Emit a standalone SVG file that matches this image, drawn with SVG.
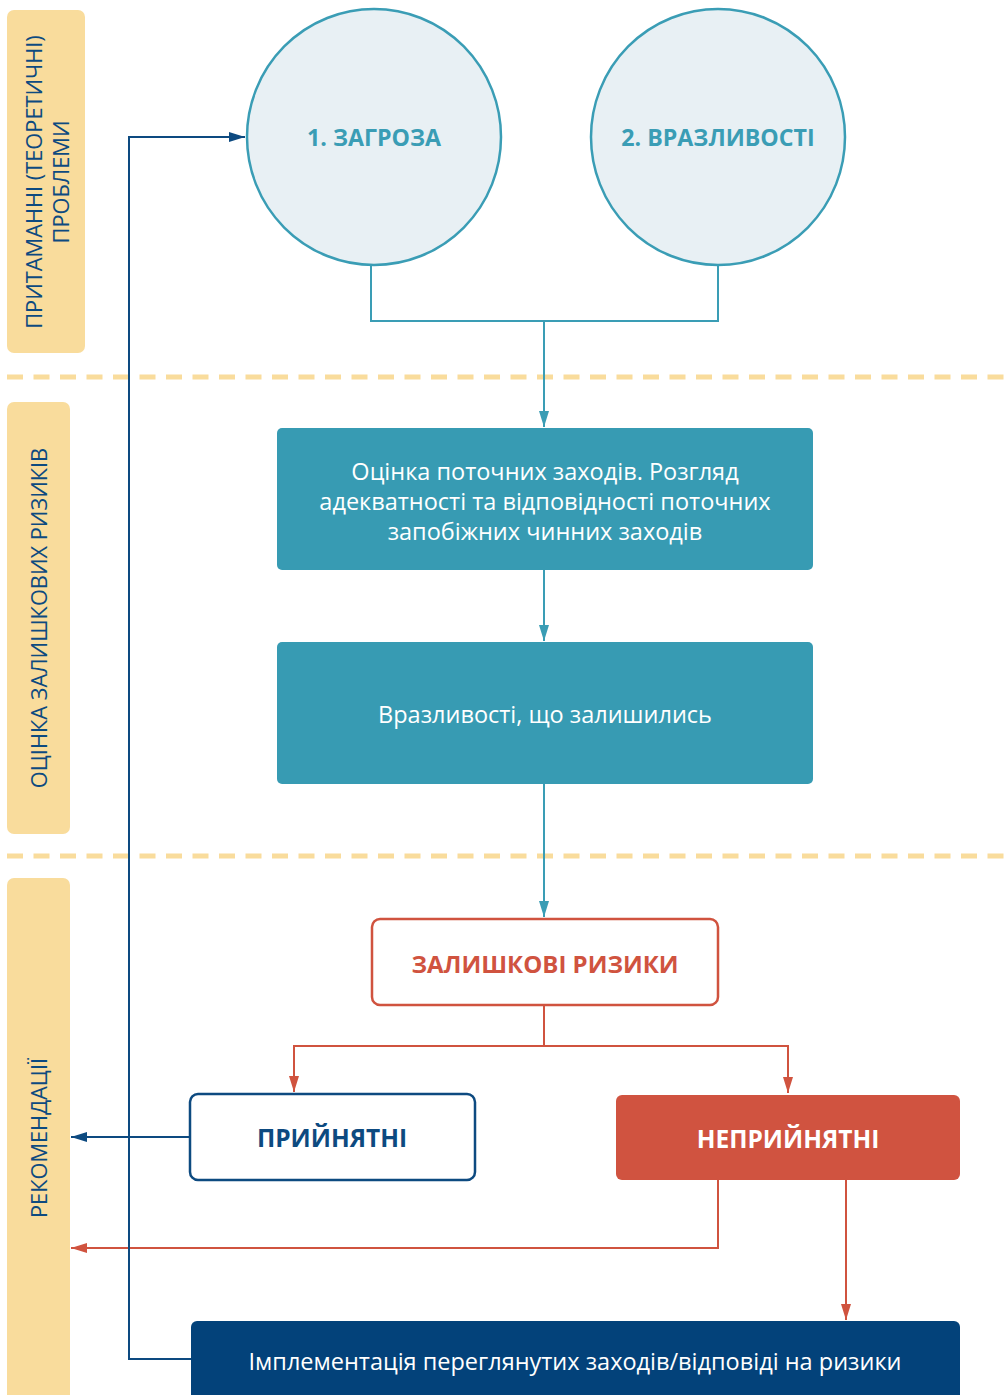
<svg xmlns="http://www.w3.org/2000/svg" width="1007" height="1395" viewBox="0 0 1007 1395">
<style>
.band{fill:#F9DC9C}
.bandtxt{font-family:"Open Sans","Noto Sans",sans-serif;font-size:21.8px;fill:#0D4A80;text-anchor:middle}
.dash{stroke:#F9DC9C;stroke-width:5;stroke-dasharray:16 10.5;fill:none}
.circ{fill:#E8F0F4;stroke:#3A9DB5;stroke-width:2.5}
.ctxt{font-family:"Open Sans","Noto Sans",sans-serif;font-size:23.2px;font-weight:bold;fill:#3A9DB5;text-anchor:middle}
.tealbox{fill:#379BB3}
.wtxt{font-family:"Open Sans","Noto Sans",sans-serif;font-size:23.5px;fill:#FFFFFF;text-anchor:middle}
.wbold{font-family:"Open Sans","Noto Sans",sans-serif;font-size:24.5px;font-weight:bold;fill:#FFFFFF;text-anchor:middle}
.teal{stroke:#3A9DB5;stroke-width:2;fill:none}
.red{stroke:#D0533F;stroke-width:2;fill:none}
.blue{stroke:#0D4A80;stroke-width:2;fill:none}
</style>
<defs>
<marker id="aRed" markerWidth="16" markerHeight="10" refX="16" refY="5" orient="auto" markerUnits="userSpaceOnUse" viewBox="0 0 16 10"><path d="M0,0 L16,5 L0,10 Z" fill="#D0533F"/></marker>
<marker id="aBlue" markerWidth="16" markerHeight="10" refX="16" refY="5" orient="auto" markerUnits="userSpaceOnUse" viewBox="0 0 16 10"><path d="M0,0 L16,5 L0,10 Z" fill="#0D4A80"/></marker>
<marker id="aTeal" markerWidth="16" markerHeight="10" refX="16" refY="5" orient="auto" markerUnits="userSpaceOnUse" viewBox="0 0 16 10"><path d="M0,0 L16,5 L0,10 Z" fill="#3A9DB5"/></marker>
</defs>
<rect width="1007" height="1395" fill="#FFFFFF"/>
<g id="band1"><rect class="band" x="7" y="10" width="78" height="343" rx="7"/>
<text class="bandtxt" transform="translate(42,182) rotate(-90)">ПРИТАМАННІ (ТЕОРЕТИЧНІ)</text>
<text class="bandtxt" transform="translate(69,182) rotate(-90)">ПРОБЛЕМИ</text></g>
<g id="band2"><rect class="band" x="7" y="402" width="63" height="432" rx="7"/>
<text class="bandtxt" transform="translate(47,618) rotate(-90)">ОЦІНКА ЗАЛИШКОВИХ РИЗИКІВ</text></g>
<g id="band3"><rect class="band" x="7" y="878" width="63" height="530" rx="7"/>
<text class="bandtxt" transform="translate(47,1138) rotate(-90)">РЕКОМЕНДАЦІЇ</text></g>
<g id="separators"><line class="dash" x1="7" y1="377" x2="1007" y2="377"/><line class="dash" x1="7" y1="856" x2="1007" y2="856"/></g>
<g id="connectors">
<path class="teal" d="M371,265 V321 H718 V265"/>
<path class="teal" d="M544,321 V427" marker-end="url(#aTeal)"/>
<path class="teal" d="M544,570 V641" marker-end="url(#aTeal)"/>
<path class="teal" d="M544,784 V917" marker-end="url(#aTeal)"/>
<path class="red" d="M544,1005 V1046 H294 V1092" marker-end="url(#aRed)"/>
<path class="red" d="M544,1046 H788 V1093" marker-end="url(#aRed)"/>
<path class="red" d="M718,1180 V1248 H71" marker-end="url(#aRed)"/>
<path class="red" d="M846,1180 V1320" marker-end="url(#aRed)"/>
<path class="blue" d="M190,1137 H71" marker-end="url(#aBlue)"/>
<path class="blue" d="M191,1359 H129 V137 H245" marker-end="url(#aBlue)"/>
</g>
<g id="threat"><ellipse class="circ" cx="374" cy="137" rx="127" ry="128"/><text class="ctxt" x="374" y="146">1. ЗАГРОЗА</text></g>
<g id="vuln"><ellipse class="circ" cx="718" cy="137" rx="127" ry="128"/><text class="ctxt" x="718" y="146">2. ВРАЗЛИВОСТІ</text></g>
<g id="assess"><rect class="tealbox" x="277" y="428" width="536" height="142" rx="5"/>
<text class="wtxt" x="545" y="480">Оцінка поточних заходів. Розгляд</text>
<text class="wtxt" x="545" y="510">адекватності та відповідності поточних</text>
<text class="wtxt" x="545" y="540">запобіжних чинних заходів</text></g>
<g id="remaining"><rect class="tealbox" x="277" y="642" width="536" height="142" rx="5"/>
<text class="wtxt" x="545" y="723">Вразливості, що залишились</text></g>
<g id="residual"><rect x="372" y="919" width="346" height="86" rx="8" fill="#FFFFFF" stroke="#D0533F" stroke-width="2.5"/>
<text x="545" y="973" style="font-family:'Open Sans','Noto Sans',sans-serif;font-size:24px;font-weight:bold;fill:#D0533F;text-anchor:middle">ЗАЛИШКОВІ РИЗИКИ</text></g>
<g id="acceptable"><rect x="190" y="1094" width="285" height="86" rx="8" fill="#FFFFFF" stroke="#0D4A80" stroke-width="2.5"/>
<text x="332" y="1147" style="font-family:'Open Sans','Noto Sans',sans-serif;font-size:24.5px;font-weight:bold;fill:#0D4A80;text-anchor:middle">ПРИЙНЯТНІ</text></g>
<g id="unacceptable"><rect x="616" y="1095" width="344" height="85" rx="6" fill="#D05340"/>
<text class="wbold" x="788" y="1148">НЕПРИЙНЯТНІ</text></g>
<g id="implement"><rect x="191" y="1321" width="769" height="90" rx="6" fill="#03427A"/>
<text class="wtxt" x="575" y="1370">Імплементація переглянутих заходів/відповіді на ризики</text></g>
</svg>
